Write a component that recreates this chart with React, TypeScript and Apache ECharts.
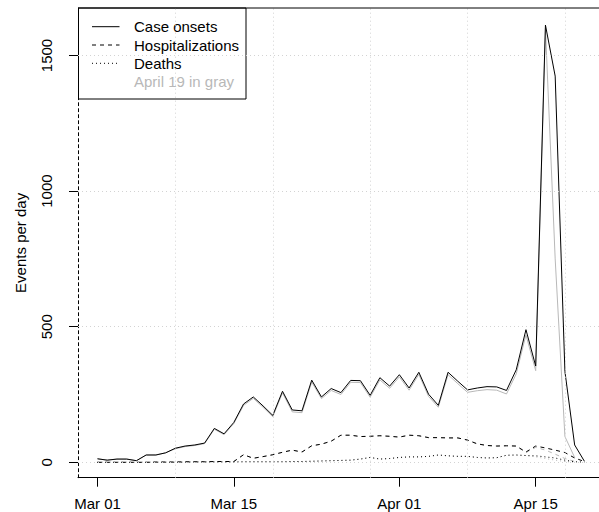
import React, { useEffect, useRef } from "react";
import * as echarts from "echarts";

// Days since Mar 01 are the array index (Mar 01 .. Apr 20)
const caseOnsets = [13, 8, 12, 12, 6, 27, 27, 35, 52, 60, 64, 71, 125, 105, 147, 215, 241, 208, 173, 262, 193, 190, 303, 241, 272, 257, 302, 301, 247, 312, 281, 323, 274, 332, 251, 210, 332, 299, 267, 274, 279, 278, 265, 341, 489, 355, 1612, 1424, 335, 64, 4];
const hospitalizations = [0, 0, 0, 0, 0, 0, 1, 1, 1, 2, 2, 2, 3, 3, 3, 28, 15, 21, 28, 37, 45, 38, 61, 67, 78, 100, 100, 95, 96, 98, 96, 93, 100, 98, 91, 91, 90, 90, 82, 68, 62, 60, 61, 60, 38, 60, 53, 45, 36, 16, 3];
const deaths = [0, 0, 0, 0, 0, 0, 0, 0, 0, 0, 1, 1, 1, 1, 1, 2, 2, 2, 2, 2, 3, 3, 4, 5, 6, 7, 8, 12, 18, 12, 14, 18, 20, 20, 22, 27, 24, 22, 22, 18, 16, 17, 26, 27, 25, 24, 20, 16, 8, 2, 1];
// April 19 versions (gray), Mar 01 .. Apr 19
const caseOnsetsApr19 = [13, 8, 12, 12, 6, 27, 27, 35, 50, 58, 62, 69, 122, 102, 143, 210, 236, 203, 168, 256, 186, 183, 296, 235, 265, 250, 295, 294, 240, 304, 273, 315, 266, 324, 243, 203, 323, 290, 258, 264, 268, 266, 252, 326, 470, 338, 1600, 750, 95, 18];
const hospitalizationsApr19 = [0, 0, 0, 0, 0, 0, 1, 1, 1, 2, 2, 2, 3, 3, 3, 28, 15, 21, 28, 37, 45, 38, 61, 67, 78, 100, 100, 95, 96, 98, 96, 93, 100, 98, 91, 91, 90, 90, 82, 68, 62, 60, 61, 60, 36, 55, 45, 30, 14, 3];
const deathsApr19 = [0, 0, 0, 0, 0, 0, 0, 0, 0, 0, 1, 1, 1, 1, 1, 2, 2, 2, 2, 2, 3, 3, 4, 5, 6, 7, 8, 12, 18, 12, 14, 18, 20, 20, 22, 27, 24, 22, 22, 18, 16, 17, 26, 27, 25, 20, 14, 8, 3, 0];

const xTickDays = [0, 14, 31, 45];
const xTickLabels = ["Mar 01", "Mar 15", "Apr 01", "Apr 15"];
const xGridDays = [8, 18, 28, 38, 48];
const yTicks = [0, 500, 1000, 1500];
const legendLabels = ["Case onsets", "Hospitalizations", "Deaths", "April 19 in gray"];

const FONT = "'Liberation Sans', Arial, Helvetica, sans-serif";
const GRAY = "#b8b8b8";
const DASH = [4, 4];
const DOT = [1, 3];

const toPts = (arr: number[]) => arr.map((v, i) => [i, v]);

export default function App() {
  const ref = useRef<HTMLDivElement>(null);
  useEffect(() => {
    if (!ref.current) return;
    const chart = echarts.init(ref.current, undefined, { renderer: "svg" });
    const lineSeries = (name: string, data: number[], color: string, type: any, z: number) => ({
      name,
      type: "line",
      data: toPts(data),
      showSymbol: false,
      symbol: "none",
      silent: true,
      z,
      lineStyle: { color, width: 1, type },
    });
    const legendRows = [
      { dash: "solid" as any, label: legendLabels[0], color: "#000", line: true },
      { dash: DASH, label: legendLabels[1], color: "#000", line: true },
      { dash: DOT, label: legendLabels[2], color: "#000", line: true },
      { dash: "solid" as any, label: legendLabels[3], color: GRAY, line: false },
    ];
    const legendEls: any[] = [
      {
        type: "rect",
        shape: { x: 78.5, y: 8, width: 167.5, height: 91 },
        style: { fill: "#fff", stroke: "#000", lineWidth: 1 },
      },
    ];
    legendRows.forEach((r, i) => {
      const y = 26.7 + i * 18.3;
      if (r.line) {
        legendEls.push({
          type: "line",
          shape: { x1: 92, y1: y, x2: 119.5, y2: y },
          style: { stroke: "#000", lineWidth: 1, lineDash: r.dash === "solid" ? null : r.dash },
        });
      }
      legendEls.push({
        type: "text",
        x: 134,
        y,
        style: { text: r.label, fill: r.color, fontSize: 15, fontFamily: FONT, verticalAlign: "middle", align: "left" },
      });
    });

    chart.setOption({
      animation: false,
      grid: { left: 78, right: 0, top: 8, bottom: 34.3, containLabel: false },
      xAxis: {
        type: "value",
        min: -2,
        max: 51.5,
        axisLine: { show: true, onZero: false, lineStyle: { color: "#000", width: 1 } },
        axisTick: { show: true, customValues: xTickDays, length: 9, lineStyle: { color: "#000" } },
        axisLabel: {
          customValues: xTickDays,
          formatter: (v: number) => xTickLabels[xTickDays.indexOf(v)] ?? "",
          margin: 18,
          fontSize: 15,
          fontFamily: FONT,
          color: "#000",
        },
        splitLine: { show: false },
      },
      yAxis: {
        type: "value",
        min: -56.7,
        max: 1675,
        name: "Events per day",
        nameLocation: "middle",
        nameRotate: 90,
        nameGap: 50,
        nameTextStyle: { fontSize: 15, fontFamily: FONT, color: "#000" },
        axisLine: { show: true, onZero: false, lineStyle: { color: "#000", width: 1, type: [3, 3] } },
        axisTick: { show: true, customValues: yTicks, length: 9, lineStyle: { color: "#000" } },
        axisLabel: {
          customValues: yTicks,
          formatter: (v: number) => String(v),
          rotate: 90,
          margin: 24,
          fontSize: 15,
          fontFamily: FONT,
          color: "#000",
        },
        splitLine: { show: false },
      },
      series: [
        {
          type: "line",
          data: [],
          z: 1,
          silent: true,
          markLine: {
            silent: true,
            symbol: "none",
            label: { show: false },
            lineStyle: { color: "#d3d3d3", type: DOT, width: 1 },
            data: [
              ...yTicks.map((v) => ({ yAxis: v })),
              ...xGridDays.map((d) => ({ xAxis: d })),
            ],
          },
        },
        lineSeries("Case onsets (Apr 19)", caseOnsetsApr19, GRAY, "solid", 2),
        lineSeries("Hospitalizations (Apr 19)", hospitalizationsApr19, GRAY, DASH, 2),
        lineSeries("Deaths (Apr 19)", deathsApr19, GRAY, DOT, 2),
        lineSeries("Case onsets", caseOnsets, "#000", "solid", 3),
        lineSeries("Hospitalizations", hospitalizations, "#000", DASH, 3),
        lineSeries("Deaths", deaths, "#000", DOT, 3),
      ],
      graphic: [
        {
          type: "line",
          shape: { x1: 78, y1: 8, x2: 599, y2: 8 },
          style: { stroke: "#000", lineWidth: 1 },
          z: 50,
        },
        { type: "group", z: 100, children: legendEls },
      ],
    });
    return () => chart.dispose();
  }, []);
  return (
    <div
      ref={ref}
      style={{ position: "absolute", left: 0, top: 0, width: 599, height: 512, background: "#fff" }}
    />
  );
}
